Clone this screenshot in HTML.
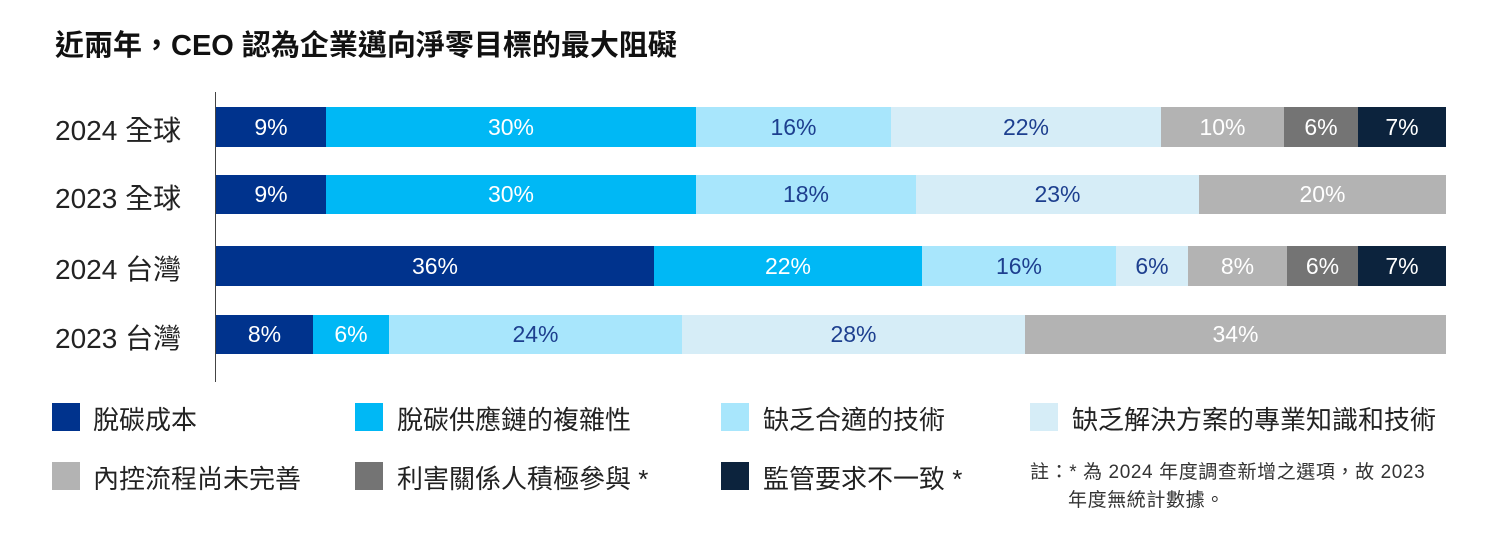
<!DOCTYPE html><html><head><meta charset="utf-8"><style>
body{margin:0;width:1500px;height:533px;background:#fff;position:relative;font-family:"Liberation Sans","Noto Sans CJK TC",sans-serif;overflow:hidden}
.a{position:absolute;white-space:nowrap}
.s{position:absolute;display:flex;align-items:center;justify-content:center;font-size:23px;color:#fff}
.l{position:absolute;left:55px;font-size:28px;color:#222;white-space:nowrap}
.sq{position:absolute;width:28px;height:28px}
.t{position:absolute;font-size:26px;color:#222;white-space:nowrap}
</style></head><body>
<div class="a" style="left:55px;top:22px;font-size:29px;font-weight:bold;color:#111">近兩年，CEO 認為企業邁向淨零目標的最大阻礙</div>
<div class="a" style="left:215px;top:92px;width:1px;height:290px;background:#444"></div>
<div id="c"></div>
<div class="sq" style="left:52px;top:403px;background:#00338D"></div><div class="t" style="left:93px;top:400px">脫碳成本</div>
<div class="sq" style="left:355px;top:403px;background:#00B8F5"></div><div class="t" style="left:397px;top:400px">脫碳供應鏈的複雜性</div>
<div class="sq" style="left:721px;top:403px;background:#A8E6FC"></div><div class="t" style="left:763px;top:400px">缺乏合適的技術</div>
<div class="sq" style="left:1030px;top:403px;background:#D6EDF7"></div><div class="t" style="left:1072px;top:400px">缺乏解決方案的專業知識和技術</div>
<div class="sq" style="left:52px;top:462px;background:#B3B3B3"></div><div class="t" style="left:93px;top:459px">內控流程尚未完善</div>
<div class="sq" style="left:355px;top:462px;background:#747474"></div><div class="t" style="left:397px;top:459px">利害關係人積極參與 *</div>
<div class="sq" style="left:721px;top:462px;background:#0C233D"></div><div class="t" style="left:763px;top:459px">監管要求不一致 *</div>
<div class="a" style="left:1030px;top:459px;font-size:19px;color:#333;line-height:28px;letter-spacing:0.6px">註：* 為 2024 年度調查新增之選項，故 2023<br><span style="padding-left:38px">年度無統計數據。</span></div>
<script>
var C={a:['#00338D','#fff'],b:['#00B8F5','#1d3f8f'],c:['#A8E6FC','#1d3f8f'],d:['#D6EDF7','#1d3f8f'],e:['#B3B3B3','#fff'],f:['#747474','#fff'],g:['#0C233D','#fff']};
var R=[[107,40,'2024 全球',[[216,'a','9%'],[326,'b','30%'],[696,'c','16%'],[891,'d','22%'],[1161,'e','10%'],[1284,'f','6%'],[1358,'g','7%']]],
[175,39,'2023 全球',[[216,'a','9%'],[326,'b','30%'],[696,'c','18%'],[916,'d','23%'],[1199,'e','20%']]],
[246,40,'2024 台灣',[[216,'a','36%'],[654,'b','22%'],[922,'c','16%'],[1116,'d','6%'],[1188,'e','8%'],[1287,'f','6%'],[1358,'g','7%']]],
[315,39,'2023 台灣',[[216,'a','8%'],[313,'b','6%'],[389,'c','24%'],[682,'d','28%'],[1025,'e','34%']]]];
var h='';R.forEach(function(r){h+='<div class="l" style="top:'+(r[0]+r[1]/2-18)+'px">'+r[2]+'</div>';var s=r[3];for(var i=0;i<s.length;i++){var x=s[i][0],x2=i+1<s.length?s[i+1][0]:1446,c=C[s[i][1]];h+='<div class="s" style="left:'+x+'px;top:'+r[0]+'px;width:'+(x2-x)+'px;height:'+r[1]+'px;background:'+c[0]+';color:'+(s[i][1]=='b'?'#fff':c[1])+'">'+s[i][2]+'</div>';}});
document.getElementById('c').innerHTML=h;
</script>
</body></html>
